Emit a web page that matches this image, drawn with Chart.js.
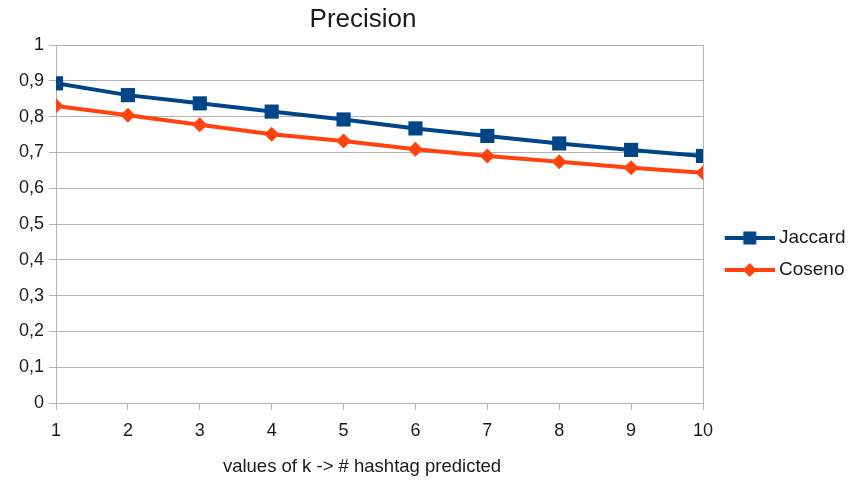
<!DOCTYPE html>
<html>
<head>
<meta charset="utf-8">
<script src="https://cdn.jsdelivr.net/npm/chart.js@4.4.1/dist/chart.umd.min.js"></script>
<style>
  html, body { margin: 0; padding: 0; background: #fff; }
  #wrap { width: 853px; height: 485px; position: relative; }
</style>
</head>
<body>
<div id="wrap"><canvas id="myChart" width="853" height="485"></canvas></div>
<script>
// k = number of hashtags predicted
var kValues = [1, 2, 3, 4, 5, 6, 7, 8, 9, 10];
var jaccard = [0.893, 0.860, 0.837, 0.814, 0.792, 0.767, 0.746, 0.725, 0.707, 0.690];
var coseno  = [0.830, 0.804, 0.777, 0.751, 0.732, 0.709, 0.690, 0.674, 0.657, 0.643];
var yTicks  = [0, 0.1, 0.2, 0.3, 0.4, 0.5, 0.6, 0.7, 0.8, 0.9, 1];

var FONT = "'Liberation Sans', Arial, sans-serif";
var BLUE = "#004586";
var ORANGE = "#ff420e";
var GRID = "#b3b3b3";
var TEXT = "#1a1a1a";

function points(values)
{
	return kValues.map(function(k, i) { return { x: k, y: values[i] }; });
}

// line+marker icon for the legend; blank strip on the left pushes it right
function legendIcon(color, shape)
{
	var c = document.createElement('canvas');
	c.width = 64;
	c.height = 16;
	var g = c.getContext('2d');
	var x0 = 14, mid = x0 + 25;
	g.strokeStyle = color;
	g.fillStyle = color;
	g.lineWidth = 4;
	g.beginPath();
	g.moveTo(x0, 8);
	g.lineTo(x0 + 50, 8);
	g.stroke();
	g.beginPath();
	if (shape === 'square') {
		g.rect(mid - 6.5, 8 - 6.5, 13, 13);
	} else {
		g.moveTo(mid - 7, 8);
		g.lineTo(mid, 1);
		g.lineTo(mid + 7, 8);
		g.lineTo(mid, 15);
		g.closePath();
	}
	g.fill();
	return c;
}

var icons = [legendIcon(BLUE, 'square'), legendIcon(ORANGE, 'diamond')];

// titles drawn at fixed spots
var textPlugin = {
	id: 'texts',
	afterDraw: function(chart) {
		var ctx = chart.ctx;
		ctx.save();
		ctx.fillStyle = TEXT;
		ctx.textAlign = 'center';
		ctx.textBaseline = 'middle';
		ctx.font = "26px " + FONT;
		ctx.fillText('Precision', 363, 20);
		ctx.font = "18.5px " + FONT;
		ctx.fillText('values of k -> # hashtag predicted', 362, 467);
		ctx.restore();
	}
};

var ctx = document.getElementById('myChart').getContext('2d');
var myChart = new Chart(ctx, {
	type: 'line',
	data: {
		datasets: [{
			label: 'Jaccard',
			data: points(jaccard),
			borderColor: BLUE,
			backgroundColor: BLUE,
			borderWidth: 4,
			pointStyle: 'rect',
			pointRadius: 10,
			pointBorderWidth: 0,
			tension: 0
		}, {
			label: 'Coseno',
			data: points(coseno),
			borderColor: ORANGE,
			backgroundColor: ORANGE,
			borderWidth: 4,
			pointStyle: 'rectRot',
			pointRadius: 7.5,
			pointBorderWidth: 0,
			tension: 0
		}]
	},
	options: {
		responsive: false,
		animation: false,
		layout: { padding: { top: 45, bottom: 22, left: 0, right: 0 } },
		plugins: {
			title: { display: false },
			tooltip: { enabled: false },
			legend: {
				position: 'right',
				align: 'center',
				maxWidth: 150,
				labels: {
					usePointStyle: true,
					pointStyleWidth: 53.5,
					padding: 13,
					color: TEXT,
					font: { family: FONT, size: 19 },
					generateLabels: function(chart) {
						return chart.data.datasets.map(function(ds, i) {
							return {
								text: ds.label,
								pointStyle: icons[i],
								datasetIndex: i,
								hidden: false,
								fontColor: TEXT,
								lineWidth: 0,
								strokeStyle: 'transparent',
								fillStyle: 'transparent'
							};
						});
					}
				}
			}
		},
		scales: {
			x: {
				type: 'linear',
				min: 1,
				max: 10,
				afterFit: function(scale) { scale.height = 60; },
				ticks: {
					stepSize: 1,
					padding: 10,
					color: TEXT,
					font: { family: FONT, size: 18 }
				},
				grid: {
					color: function(c) { return c.tick && c.tick.value === 10 ? GRID : 'transparent'; },
					tickColor: GRID,
					tickLength: 7,
					lineWidth: 1
				},
				border: { color: GRID, width: 1 }
			},
			y: {
				min: 0,
				max: 1,
				afterFit: function(scale) { scale.width = 56; },
				afterBuildTicks: function(scale) {
					scale.ticks = yTicks.map(function(v) { return { value: v }; });
				},
				ticks: {
					padding: 5,
					color: TEXT,
					font: { family: FONT, size: 18 },
					callback: function(v) {
						return String(Math.round(v * 10) / 10).replace('.', ',');
					}
				},
				grid: {
					color: GRID,
					tickColor: GRID,
					tickLength: 7,
					lineWidth: 1
				},
				border: { color: GRID, width: 1 }
			}
		}
	},
	plugins: [textPlugin]
});
</script>
</body>
</html>
